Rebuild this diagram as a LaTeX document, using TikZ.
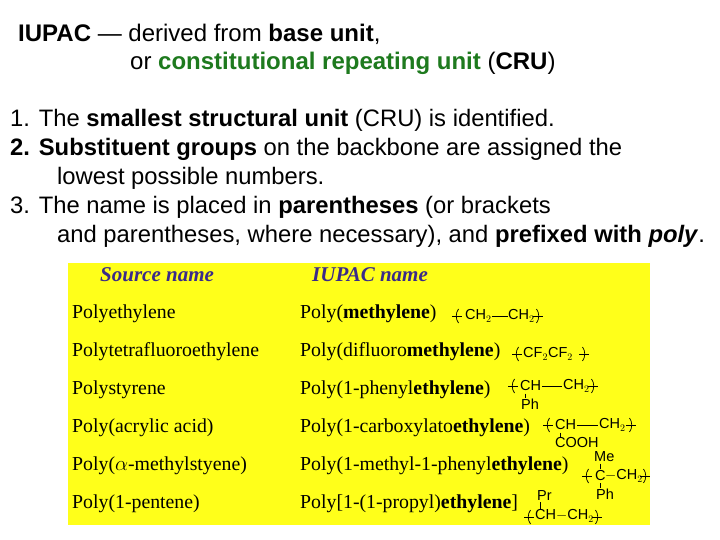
\documentclass[tikz,border=0pt]{standalone}
\usepackage{fontspec}
\setmainfont{Liberation Serif}
\newfontfamily\arial{Liberation Sans}
\definecolor{hdr}{HTML}{3A2A8A}
\definecolor{grn}{HTML}{1E7A1E}
\definecolor{yel}{HTML}{FFFF1A}
\begin{document}
\begin{tikzpicture}[x=1pt,y=-1pt,
  top/.style={anchor=west,inner sep=0,font=\arial\fontsize{24}{27}\selectfont},
  lst/.style={anchor=west,inner sep=0,font=\arial\fontsize{23.8}{27}\selectfont},
  hd/.style={anchor=west,inner sep=0,text=hdr,font=\fontsize{21}{24}\selectfont\bfseries\itshape},
  cell/.style={anchor=west,inner sep=0,font=\fontsize{19.8}{22}\selectfont},
  chem/.style={anchor=west,inner sep=0,font=\arial\fontsize{14.5}{16}\selectfont},
  brk/.style={line width=0.7pt}]
\useasboundingbox (0,0) rectangle (720,540);
\fill[white] (0,0) rectangle (720,540);
\node[top] (t1) at (18,34) {\textbf{IUPAC} \textemdash\ derived from \textbf{base unit},};
\node[top] (t2) at (130,63) {or \textcolor{grn}{\textbf{constitutional repeating unit}} (\textbf{CRU})};
\node[lst] (l1) at (10,120) {1. The \textbf{smallest structural unit} (CRU) is identified.};
\node[lst] (l2) at (10,149) {\textbf{2. Substituent groups} on the backbone are assigned the};
\node[lst] (l2b) at (57,178) {lowest possible numbers.};
\node[lst] (l3) at (10,207) {3. The name is placed in \textbf{parentheses} (or brackets};
\node[lst] (l3b) at (57,236) {and parentheses, where necessary), and \textbf{prefixed with \textit{poly}}.};
\fill[yel] (68,263) rectangle (650,525);
\node[hd] (h1) at (100,275) {Source name};
\node[hd] (h2) at (312,275) {IUPAC name};
\foreach \y/\a/\b [count=\i] in {
 314/Polyethylene/Poly(\textbf{methylene}),
 352/Polytetrafluoroethylene/Poly(difluoro\textbf{methylene}),
 390/Polystyrene/Poly(1-phenyl\textbf{ethylene}),
 428/Poly(acrylic acid)/Poly(1-carboxylato\textbf{ethylene}),
 466/Poly($\alpha$-methylstyene)/Poly(1-methyl-1-phenyl\textbf{ethylene}),
 504/Poly(1-pentene)/Poly[1-(1-propyl)\textbf{ethylene}]}{
 \node[cell] (s\i) at (72,\y) {\a};
 \node[cell] (n\i) at (300,\y) {\b};
}
% brackets: d=+1 for "(" (left), -1 for ")" (right)
\foreach \x/\y/\d in {457/316/1,538/316/-1,517/354/1,584/354/-1,513/386/1,593/386/-1,548/425/1,631/425/-1,587/476/1,645/476/-1,529/517/1,597/517/-1}
  {\draw[brk] (\x+1.5*\d,\y-7) .. controls (\x-1.5*\d,\y-3) and (\x-1.5*\d,\y+3) .. (\x+1.5*\d,\y+7);
   \draw[brk] (\x-5,\y) -- (\x+5,\y);}
% row1
\node[chem] (c1a) at (465,316) {CH$_2$};
\node[chem] (c1b) at (508,316) {CH$_2$};
\draw[brk] (c1a.east) -- (c1b.west);
% row2
\node[chem] (c2) at (523,354) {CF$_2$CF$_2$};
% row3
\node[chem] (c3a) at (520,386) {CH};
\node[chem] (c3b) at (563,386) {CH$_2$};
\draw[brk] ([xshift=1pt]c3a.east) -- ([xshift=-1pt]c3b.west);
\node[chem] (c3p) at (521,404) {Ph};
\draw[brk] (525.5,393.5) -- (525.5,398);
% row4
\node[chem] (c4a) at (555,425) {CH};
\node[chem] (c4b) at (599,425) {CH$_2$};
\draw[brk] ([xshift=1pt]c4a.east) -- ([xshift=-1pt]c4b.west);
\node[chem] (c4p) at (555,443) {COOH};
\draw[brk] (560,432.5) -- (560,437);
% row5
\node[chem] (c5m) at (594,457) {Me};
\node[chem] (c5c) at (595,476) {C};
\node[chem] (c5b) at (605,476) {$-$CH$_2$};
\node[chem] (c5p) at (596,494) {Ph};
\draw[brk] (600,463.5) -- (600,469);
\draw[brk] (600,483) -- (600,488);
% row6
\node[chem] (c6m) at (537,496) {Pr};
\node[chem] (c6c) at (535,516) {CH$-$CH$_2$};
\draw[brk] (540.5,502) -- (540.5,509);
\end{tikzpicture}
\end{document}
